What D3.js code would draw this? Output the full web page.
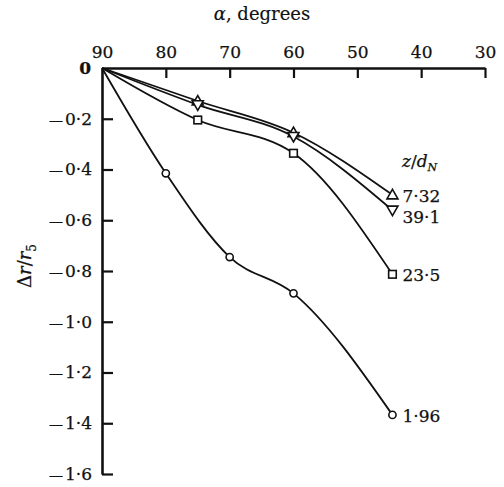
<!doctype html>
<html>
<head>
	<meta charset="utf-8">
	<script src="https://d3js.org/d3.v7.min.js" type="text/javascript"></script>
	<style>
		body { margin: 0; background: #fff; }
		svg text { font-family: "DejaVu Serif", serif; fill: #111; stroke: #111; stroke-width: 0.25px; }
	</style>
</head>
<body>
	<div id="chart"></div>
	<script type="text/javascript">
		"use strict";

		// angle values (degrees) and displacement for each z/dN run
		const angles = [90, 75, 60, 44.5];
		const anglesCircle = [90, 80, 70, 60, 44.5];
		const series732 = [0, -0.13, -0.255, -0.50];
		const series391 = [0, -0.145, -0.27, -0.56];
		const series235 = [0, -0.205, -0.336, -0.813];
		const series196 = [0, -0.415, -0.745, -0.888, -1.367];
		const xTicks = [90, 80, 70, 60, 50, 40, 30];
		const yTicks = [0, -0.2, -0.4, -0.6, -0.8, -1.0, -1.2, -1.4, -1.6];

		const width = 504, height = 487;
		const serif = "'DejaVu Serif', serif";

		const svg = d3.select("#chart").append("svg")
			.attr("width", width)
			.attr("height", height);

		const x = d3.scaleLinear().domain([90, 30]).range([102, 485]);
		const y = d3.scaleLinear().domain([0, -1.6]).range([68, 474]);

		// x axis along the top, ticks pointing down into the plot
		const xAxis = svg.append("g")
			.attr("transform", "translate(0," + y(0) + ")")
			.call(d3.axisTop(x).tickValues(xTicks).tickSizeInner(-10).tickSizeOuter(0).tickPadding(10));

		// y axis, ticks pointing right
		const yAxis = svg.append("g")
			.attr("transform", "translate(" + x(90) + ",0)")
			.call(d3.axisLeft(y).tickValues(yTicks).tickSizeInner(-11).tickSizeOuter(0).tickPadding(10));

		[xAxis, yAxis].forEach(function (g) {
			g.attr("font-family", serif);
			g.select(".domain").attr("stroke", "#111").attr("stroke-width", 2.6);
			g.selectAll(".tick line").attr("stroke", "#111").attr("stroke-width", 2.2);
			g.selectAll(".tick text")
				.style("font-size", "17px")
				.attr("fill", "#111");
		});

		// y labels: long dash, then digits with a raised point
		yAxis.selectAll(".tick text").html(function (d) {
			if (d === 0) return "0";
			const s = Math.abs(d).toFixed(1).replace(".", "\u00b7");
			return "<tspan font-size='14px'>\u2014</tspan><tspan dx='2'>" + s + "</tspan>";
		});
		yAxis.selectAll(".tick text")
			.filter(function (d) { return d === 0; })
			.style("font-weight", "bold")
			.attr("dx", "-1");
		xAxis.selectAll(".tick line").filter(function (d) { return d === 90; }).remove();
		yAxis.selectAll(".tick line").filter(function (d) { return d === 0; }).remove();

		// axis titles
		svg.append("text")
			.attr("x", 262)
			.attr("y", 20)
			.attr("text-anchor", "middle")
			.style("stroke-width", "0.15px")
			.style("font-size", "18px")
			.html("<tspan font-style='italic'>\u03b1</tspan>, degrees");

		svg.append("text")
			.attr("transform", "translate(31,266) rotate(-90)")
			.attr("text-anchor", "middle")
			.style("font-size", "18px")
			.html("\u0394<tspan font-style='italic'>r</tspan>/<tspan font-style='italic'>r</tspan><tspan font-size='12px' dy='5'>5</tspan>");

		const line = d3.line()
			.x(function (d) { return x(d[0]); })
			.y(function (d) { return y(d[1]); })
			.curve(d3.curveMonotoneX);

		const runs = [
			{ label: "7\u00b732", xs: angles, ys: series732, marker: "up", dy: 0 },
			{ label: "39\u00b71", xs: angles, ys: series391, marker: "down", dy: 6 },
			{ label: "23\u00b75", xs: angles, ys: series235, marker: "square", dy: 0 },
			{ label: "1\u00b796", xs: anglesCircle, ys: series196, marker: "circle", dy: 0 }
		];

		const plot = svg.append("g");

		runs.forEach(function (r) {
			const pts = r.xs.map(function (a, i) { return [a, r.ys[i]]; });
			plot.append("path")
				.datum(pts)
				.attr("class", "curve")
				.attr("d", line)
				.attr("fill", "none")
				.attr("stroke", "#111")
				.attr("stroke-width", 1.8);

			const markers = plot.selectAll(null)
				.data(pts.slice(1))
				.enter();

			let m;
			if (r.marker === "circle") {
				m = markers.append("circle")
					.attr("cx", function (d) { return x(d[0]); })
					.attr("cy", function (d) { return y(d[1]); })
					.attr("r", 3.6);
			} else if (r.marker === "square") {
				m = markers.append("rect")
					.attr("x", function (d) { return x(d[0]) - 3.8; })
					.attr("y", function (d) { return y(d[1]) - 3.8; })
					.attr("width", 7.6)
					.attr("height", 7.6);
			} else {
				const s = r.marker === "up" ? -1 : 1;
				m = markers.append("path")
					.attr("d", function (d) {
						const cx = x(d[0]), cy = y(d[1]);
						return "M" + (cx - 5.5) + "," + (cy - 4 * s) +
							"L" + (cx + 5.5) + "," + (cy - 4 * s) +
							"L" + cx + "," + (cy + 5.5 * s) + "Z";
					});
			}
			m.attr("fill", "#fff")
				.attr("stroke", "#111")
				.attr("stroke-width", 1.6);

			const last = pts[pts.length - 1];
			svg.append("text")
				.attr("x", x(last[0]) + 10)
				.attr("y", y(last[1]) + 7 + r.dy)
				.style("font-size", "17px")
				.text(r.label);
		});

		// legend title
		svg.append("text")
			.attr("x", 402)
			.attr("y", 167)
			.style("font-size", "17px")
			.html("<tspan font-style='italic'>z</tspan>/<tspan font-style='italic'>d</tspan><tspan font-style='italic' font-size='11px' dy='4'>N</tspan>");
	</script>
</body>
</html>
